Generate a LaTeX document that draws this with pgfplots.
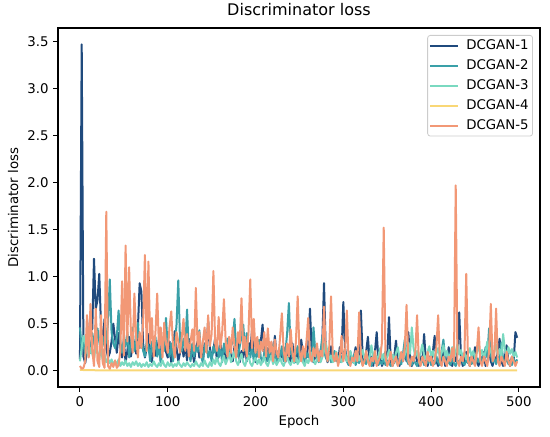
\documentclass[border=0pt]{standalone}
\usepackage{fontspec}
\setmainfont{DejaVu Sans}
\usepackage{pgfplots}
\pgfplotsset{compat=1.18}
\usepackage{pgfplotstable}
\definecolor{cA}{RGB}{31,74,125}
\definecolor{cB}{RGB}{58,160,168}
\definecolor{cC}{RGB}{122,217,192}
\definecolor{cD}{RGB}{249,215,118}
\definecolor{cE}{RGB}{242,152,118}
\definecolor{legframe}{RGB}{204,204,204}
\pgfplotstableread{
x n t a o
0 0.12 0.46 0.10 0.05
2 3.47 0.22 0.25 0.02
4 0.15 0.31 0.37 0.03
6 0.08 0.16 0.30 0.10
8 0.21 0.26 0.21 0.59
10 0.36 0.35 0.15 0.14
12 0.61 0.19 0.24 0.71
14 0.44 0.40 0.18 0.22
16 1.19 0.29 0.12 0.05
18 0.66 0.24 0.27 0.66
20 0.75 0.45 0.20 0.10
22 1.03 0.31 0.14 0.04
24 0.47 0.18 0.22 0.59
26 0.29 0.36 0.11 0.08
28 0.55 0.26 0.17 0.03
30 0.24 0.31 0.09 1.69
32 0.14 0.52 0.13 0.05
34 0.19 0.97 0.08 0.02
36 0.31 0.41 0.12 0.08
38 0.50 0.29 0.06 0.04
40 0.34 0.24 0.10 0.11
42 0.19 0.36 0.07 0.03
44 0.40 0.64 0.12 0.06
46 0.26 0.31 0.05 0.21
48 0.14 0.19 0.09 0.95
50 0.31 0.34 0.06 0.16
52 0.09 0.26 0.11 1.33
54 0.21 0.41 0.05 0.31
56 0.36 0.14 0.08 1.10
58 0.15 0.29 0.04 0.42
60 0.26 0.46 0.09 0.19
62 0.31 0.21 0.06 0.82
64 0.18 0.30 0.10 0.36
66 0.45 0.51 0.05 0.14
68 0.93 0.24 0.08 0.41
70 0.84 0.36 0.04 0.24
72 0.29 0.21 0.07 0.52
74 0.14 0.15 0.05 1.23
76 0.24 0.31 0.09 0.21
78 0.39 0.26 0.04 1.16
80 0.19 0.10 0.07 0.29
82 0.09 0.31 0.05 0.56
84 0.31 0.19 0.10 0.15
86 0.16 0.36 0.06 0.41
88 0.21 0.15 0.04 0.82
90 0.34 0.26 0.08 0.24
92 0.10 0.09 0.05 0.46
94 0.26 0.31 0.11 0.14
96 0.39 0.21 0.06 0.51
98 0.20 0.56 0.04 0.29
100 0.14 0.24 0.09 0.19
102 0.31 0.15 0.05 0.46
104 0.09 0.29 0.08 0.63
106 0.21 0.10 0.04 0.26
108 0.42 0.26 0.07 0.14
110 0.24 0.49 0.05 0.41
112 0.10 0.96 0.10 0.31
114 0.19 0.31 0.06 0.19
116 0.29 0.21 0.04 0.36
118 0.15 0.34 0.08 0.55
120 0.26 0.24 0.05 0.21
122 0.11 0.65 0.09 0.39
124 0.34 0.19 0.06 0.15
126 0.16 0.10 0.04 0.31
128 0.21 0.29 0.07 0.44
130 0.09 0.15 0.05 0.21
132 0.24 0.26 0.10 0.88
134 0.31 0.20 0.06 0.26
136 0.14 0.43 0.04 0.41
138 0.19 0.15 0.08 0.14
140 0.10 0.09 0.05 0.31
142 0.29 0.25 0.11 0.46
144 0.20 0.31 0.06 0.19
146 0.53 0.14 0.04 0.59
148 0.24 0.21 0.09 0.26
150 0.15 0.10 0.05 0.39
152 0.21 0.26 0.12 1.06
154 0.35 0.19 0.07 0.29
156 0.10 0.31 0.14 0.21
158 0.19 0.14 0.08 0.57
160 0.30 0.24 0.05 0.24
162 0.14 0.09 0.11 0.41
164 0.25 0.29 0.16 0.76
166 0.09 0.19 0.07 0.31
168 0.21 0.34 0.12 0.15
170 0.31 0.14 0.19 0.36
172 0.15 0.26 0.09 0.19
174 0.10 0.31 0.14 0.46
176 0.26 0.55 0.21 0.26
178 0.19 0.21 0.10 0.14
180 0.34 0.15 0.06 0.41
182 0.09 0.26 0.12 0.29
184 0.21 0.36 0.18 0.77
186 0.14 0.49 0.09 0.21
188 0.25 0.21 0.05 0.36
190 0.10 0.40 0.11 0.15
192 0.30 0.19 0.16 0.41
194 0.20 0.14 0.08 0.97
196 0.43 0.26 0.05 0.24
198 0.15 0.10 0.10 0.55
200 0.09 0.21 0.14 0.19
202 0.26 0.15 0.07 0.36
204 0.19 0.33 0.12 0.14
206 0.31 0.14 0.06 0.31
208 0.49 0.09 0.10 0.21
210 0.21 0.19 0.15 0.41
212 0.10 0.26 0.08 0.15
214 0.24 0.10 0.05 0.45
216 0.14 0.21 0.11 0.19
218 0.30 0.14 0.16 0.31
220 0.09 0.28 0.07 0.10
222 0.37 0.15 0.12 0.33
224 0.15 0.09 0.06 0.19
226 0.10 0.21 0.10 0.14
228 0.21 0.15 0.14 0.36
230 0.14 0.26 0.08 0.61
232 0.25 0.10 0.05 0.21
234 0.09 0.19 0.11 0.10
236 0.20 0.40 0.15 0.29
238 0.15 0.72 0.09 0.15
240 0.10 0.21 0.06 0.44
242 0.29 0.14 0.12 0.19
244 0.15 0.09 0.08 0.10
246 0.09 0.19 0.14 0.31
248 0.21 0.26 0.07 0.79
250 0.14 0.10 0.11 0.21
252 0.33 0.15 0.16 0.10
254 0.19 0.21 0.09 0.26
256 0.10 0.09 0.05 0.14
258 0.15 0.19 0.12 0.31
260 0.26 0.14 0.08 0.56
262 0.66 0.21 0.14 0.15
264 0.19 0.10 0.19 0.10
266 0.09 0.46 0.11 0.24
268 0.15 0.21 0.07 0.15
270 0.24 0.14 0.12 0.29
272 0.10 0.09 0.16 0.10
274 0.21 0.19 0.09 0.21
276 0.30 0.36 0.14 0.15
278 0.93 0.21 0.21 0.68
280 0.20 0.14 0.30 0.21
282 0.09 0.10 0.19 0.10
284 0.15 0.19 0.12 0.26
286 0.26 0.09 0.16 0.79
288 0.10 0.15 0.09 0.15
290 0.19 0.21 0.14 0.10
292 0.14 0.10 0.20 0.19
294 0.09 0.16 0.11 0.05
296 0.25 0.09 0.15 0.14
298 0.19 0.14 0.09 0.37
300 0.73 0.19 0.13 0.10
302 0.24 0.22 0.18 0.20
304 0.10 0.10 0.10 0.64
306 0.15 0.06 0.15 0.10
308 0.20 0.14 0.21 0.05
310 0.09 0.09 0.12 0.14
312 0.14 0.17 0.08 0.10
314 0.25 0.06 0.14 0.21
316 0.10 0.12 0.19 0.10
318 0.19 0.08 0.11 0.62
320 0.64 0.15 0.16 0.15
322 0.15 0.06 0.22 0.05
324 0.09 0.11 0.13 0.10
326 0.20 0.07 0.18 0.21
328 0.36 0.14 0.10 0.10
330 0.10 0.09 0.15 0.05
332 0.15 0.05 0.27 0.14
334 0.05 0.12 0.14 0.10
336 0.20 0.08 0.19 0.21
338 0.41 0.15 0.11 0.05
340 0.10 0.06 0.16 0.10
342 0.15 0.10 0.24 0.15
344 0.05 0.07 0.12 0.30
346 0.10 0.13 0.18 1.52
348 0.20 0.06 0.10 0.15
350 0.15 0.11 0.15 0.05
352 0.57 0.08 0.22 0.10
354 0.10 0.05 0.13 0.20
356 0.05 0.12 0.17 0.05
358 0.15 0.08 0.11 0.10
360 0.32 0.14 0.19 0.15
362 0.10 0.06 0.25 0.05
364 0.05 0.10 0.14 0.10
366 0.15 0.07 0.19 0.20
368 0.10 0.18 0.12 0.10
370 0.20 0.33 0.17 0.25
372 0.10 0.12 0.22 0.70
374 0.41 0.07 0.30 0.10
376 0.15 0.10 0.18 0.05
378 0.05 0.06 0.46 0.15
380 0.10 0.12 0.24 0.10
382 0.20 0.08 0.15 0.20
384 0.10 0.05 0.21 0.59
386 0.05 0.11 0.13 0.10
388 0.15 0.07 0.19 0.05
390 0.10 0.13 0.28 0.15
392 0.39 0.06 0.16 0.10
394 0.10 0.10 0.12 0.05
396 0.05 0.08 0.20 0.20
398 0.15 0.14 0.26 0.10
400 0.10 0.06 0.15 0.15
402 0.20 0.11 0.21 0.05
404 0.37 0.07 0.13 0.10
406 0.10 0.15 0.18 0.25
408 0.05 0.09 0.24 0.59
410 0.15 0.06 0.14 0.10
412 0.10 0.21 0.19 0.05
414 0.20 0.33 0.27 0.15
416 0.05 0.12 0.16 0.10
418 0.10 0.07 0.21 0.05
420 0.25 0.10 0.13 0.15
422 0.10 0.06 0.18 0.10
424 0.05 0.13 0.25 0.24
426 0.15 0.08 0.15 0.10
428 0.10 0.05 0.20 1.97
430 0.20 0.11 0.28 0.10
432 0.62 0.07 0.17 0.05
434 0.15 0.14 0.22 0.15
436 0.05 0.09 0.14 0.10
438 0.10 0.06 0.19 0.20
440 0.20 0.12 0.12 1.03
442 0.10 0.08 0.18 0.10
444 0.05 0.14 0.24 0.05
446 0.15 0.07 0.15 0.15
448 0.10 0.11 0.21 0.10
450 0.25 0.06 0.13 0.05
452 0.10 0.13 0.19 0.20
454 0.05 0.09 0.27 0.46
456 0.15 0.16 0.16 0.10
458 0.10 0.07 0.22 0.05
460 0.20 0.12 0.14 0.15
462 0.05 0.25 0.20 0.10
464 0.10 0.14 0.31 0.05
466 0.20 0.45 0.18 0.20
468 0.10 0.17 0.24 0.71
470 0.05 0.09 0.15 0.10
472 0.15 0.13 0.21 0.15
474 0.10 0.07 0.28 0.66
476 0.20 0.15 0.17 0.10
478 0.34 0.10 0.23 0.05
480 0.10 0.30 0.14 0.15
482 0.05 0.12 0.39 0.10
484 0.15 0.08 0.22 0.05
486 0.27 0.14 0.16 0.20
488 0.10 0.07 0.25 0.10
490 0.05 0.11 0.18 0.05
492 0.15 0.06 0.23 0.15
494 0.10 0.13 0.15 0.10
496 0.41 0.08 0.20 0.05
498 0.35 0.12 0.14 0.10
}\losstable
\begin{document}
\begin{tikzpicture}
\useasboundingbox (-43.5pt,-36.75pt) rectangle (369pt,290.25pt);
\begin{axis}[
  at={(0,0)}, anchor=south west, scale only axis,
  width=361.5pt, height=269.25pt,
  xmin=-25, xmax=524, ymin=-0.1735, ymax=3.6435,
  xtick={0,100,200,300,400,500},
  ytick={0,0.5,1,1.5,2,2.5,3,3.5},
  yticklabel style={/pgf/number format/.cd, fixed, fixed zerofill, precision=1},
  /pgf/number format/assume math mode=true,
  tick align=outside, tick pos=left,
  major tick length=3.5pt,
  tick style={black, line width=0.8pt},
  axis line style={black, line width=0.8pt},
  ticklabel style={font=\fontsize{10}{12}\selectfont},
  xlabel={Epoch}, ylabel={Discriminator loss},
  label style={font=\fontsize{10}{12}\selectfont},
  title={Discriminator loss},
  title style={font=\fontsize{12}{14}\selectfont},
  legend cell align=left,
  legend image code/.code={\draw[#1,line width=1.5pt] (0pt,0pt) -- (21pt,0pt);},
  legend style={at={(1,1)}, anchor=north east, xshift=-5.25pt, yshift=-5.25pt,
    draw=legframe, line width=0.6pt, rounded corners=2pt, fill=white, fill opacity=0.8, text opacity=1,
    font=\fontsize{10}{12}\selectfont, inner xsep=1pt, inner ysep=2pt,
    nodes={inner xsep=2pt, inner ysep=1pt, text height=7.5pt, text depth=2pt},
    row sep=3.5pt, column sep=3.5pt},
  every axis plot/.append style={line width=1.5pt, line join=round, no marks},
]
\addplot[cA] table[x=x,y=n]{\losstable};
\addlegendentry{DCGAN-1}
\addplot[cB] table[x=x,y=t]{\losstable};
\addlegendentry{DCGAN-2}
\addplot[cC] table[x=x,y=a]{\losstable};
\addlegendentry{DCGAN-3}
\addplot[cD] coordinates {(0,0.008) (20,0.004) (40,0.003) (60,0.002) (80,0.003) (100,0.002) (120,0.002) (140,0.003) (160,0.002) (180,0.002) (200,0.003) (220,0.002) (240,0.002) (260,0.003) (280,0.002) (300,0.002) (320,0.002) (340,0.003) (360,0.002) (380,0.002) (400,0.002) (420,0.003) (440,0.002) (460,0.002) (480,0.002) (498,0.002)};
\addlegendentry{DCGAN-4}
\addplot[cE] table[x=x,y=o]{\losstable};
\addlegendentry{DCGAN-5}
\end{axis}
\end{tikzpicture}
\end{document}
